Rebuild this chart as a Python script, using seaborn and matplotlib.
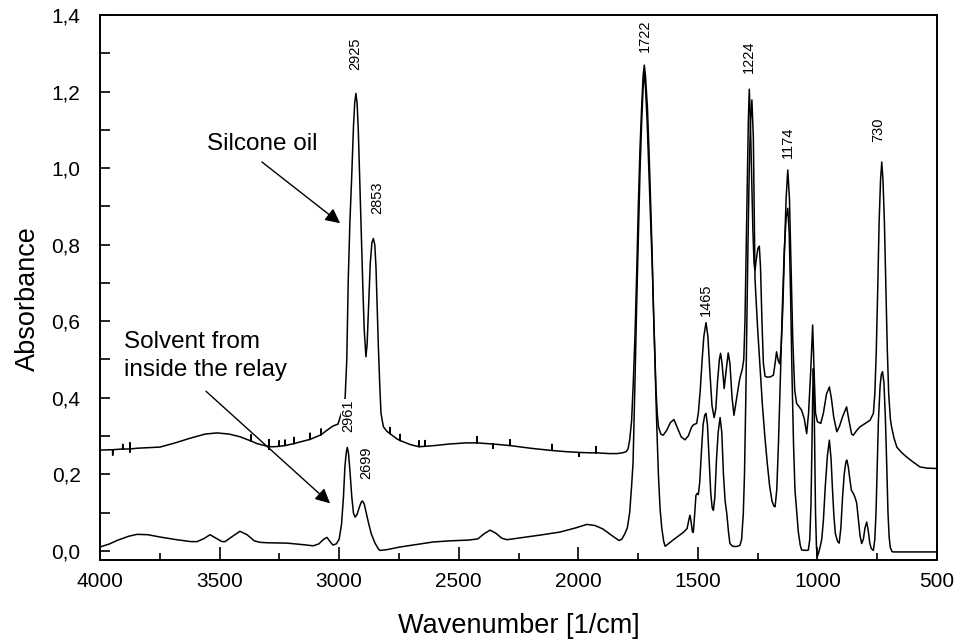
import matplotlib
matplotlib.use('Agg')
import matplotlib.pyplot as plt
from matplotlib.ticker import MultipleLocator, FuncFormatter
import seaborn as sns

# upper spectrum (silicone oil), wavenumber [1/cm] and absorbance
silicone_wn = [
    4000, 3960, 3947, 3947, 3947, 3929, 3905, 3905, 3905, 3875, 3875, 3875, 3875,
    3845, 3749, 3680, 3624, 3560, 3511, 3460, 3415, 3369, 3369, 3369, 3343, 3305,
    3293, 3293, 3293, 3293, 3270, 3251, 3251, 3251, 3226, 3226, 3226, 3189, 3189,
    3189, 3160, 3122, 3122, 3122, 3080, 3076, 3076, 3076, 3051, 3026, 3005, 2990,
    2975, 2968, 2962, 2955, 2948, 2944, 2940, 2935, 2930, 2925, 2920, 2913, 2906,
    2900, 2895, 2888, 2883, 2878, 2870, 2863, 2857, 2851, 2846, 2841, 2836, 2830,
    2825, 2815, 2800, 2787, 2787, 2787, 2760, 2745, 2745, 2745, 2700, 2666, 2666,
    2666, 2641, 2641, 2641, 2600, 2540, 2470, 2424, 2424, 2424, 2357, 2357, 2357,
    2286, 2286, 2286, 2200, 2110, 2110, 2110, 2050, 1997, 1997, 1997, 1950, 1926,
    1926, 1926, 1870, 1838, 1815, 1800, 1792, 1785, 1777, 1770, 1763, 1756, 1749,
    1742, 1735, 1729, 1724, 1719, 1711, 1704, 1697, 1691, 1686, 1680, 1675, 1670,
    1665, 1655, 1645, 1630, 1615, 1600, 1588, 1570, 1554, 1540, 1527, 1519, 1505,
    1498, 1490, 1482, 1475, 1466, 1458, 1450, 1441, 1432, 1425, 1418, 1410, 1405,
    1399, 1390, 1382, 1373, 1366, 1357, 1349, 1340, 1330, 1324, 1314, 1308, 1303,
    1298, 1293, 1289, 1285, 1281, 1276, 1270, 1265, 1261, 1256, 1249, 1243, 1238,
    1232, 1226, 1219, 1212, 1198, 1184, 1177, 1171, 1164, 1158, 1152, 1145, 1138,
    1131, 1124, 1117, 1110, 1103, 1095, 1087, 1076, 1066, 1055, 1045, 1037, 1028,
    1020, 1014, 1008, 1000, 986, 975, 962, 950, 942, 932, 919, 908, 895, 878,
    868, 857, 850, 835, 822, 800, 780, 766, 760, 754, 748, 742, 736, 731, 726,
    720, 714, 708, 702, 695, 690, 680, 668, 650, 627, 600, 571, 540, 500,
]
silicone_abs = [
    0.263, 0.264, 0.264, 0.250, 0.264, 0.265, 0.266, 0.278, 0.266, 0.266, 0.282, 0.258, 0.266,
    0.268, 0.271, 0.283, 0.294, 0.305, 0.308, 0.305, 0.298, 0.287, 0.303, 0.287, 0.280, 0.274,
    0.272, 0.290, 0.265, 0.272, 0.272, 0.273, 0.287, 0.273, 0.275, 0.289, 0.275, 0.280, 0.296,
    0.280, 0.285, 0.291, 0.307, 0.291, 0.302, 0.303, 0.318, 0.303, 0.315, 0.326, 0.331, 0.360,
    0.400, 0.500, 0.707, 0.860, 0.969, 1.040, 1.110, 1.170, 1.195, 1.170, 1.100, 0.950, 0.794,
    0.670, 0.576, 0.507, 0.540, 0.620, 0.750, 0.805, 0.816, 0.800, 0.742, 0.640, 0.533, 0.430,
    0.359, 0.324, 0.312, 0.306, 0.322, 0.306, 0.293, 0.288, 0.304, 0.288, 0.277, 0.272, 0.287,
    0.272, 0.273, 0.288, 0.273, 0.275, 0.279, 0.282, 0.282, 0.298, 0.282, 0.279, 0.268, 0.279,
    0.275, 0.290, 0.275, 0.268, 0.262, 0.278, 0.262, 0.259, 0.257, 0.247, 0.257, 0.256, 0.256,
    0.272, 0.256, 0.254, 0.254, 0.256, 0.259, 0.266, 0.290, 0.340, 0.440, 0.560, 0.720, 0.900,
    1.050, 1.160, 1.240, 1.269, 1.240, 1.160, 1.040, 0.900, 0.770, 0.640, 0.520, 0.420, 0.360,
    0.325, 0.305, 0.302, 0.315, 0.335, 0.343, 0.325, 0.298, 0.290, 0.300, 0.322, 0.329, 0.333,
    0.360, 0.420, 0.500, 0.560, 0.596, 0.560, 0.470, 0.380, 0.348, 0.370, 0.440, 0.500, 0.516,
    0.490, 0.424, 0.470, 0.517, 0.490, 0.400, 0.354, 0.390, 0.430, 0.452, 0.475, 0.500, 0.600,
    0.780, 0.970, 1.120, 1.206, 1.140, 1.000, 0.840, 0.750, 0.733, 0.760, 0.790, 0.796, 0.740,
    0.600, 0.490, 0.456, 0.454, 0.454, 0.459, 0.490, 0.520, 0.497, 0.489, 0.530, 0.630, 0.780,
    0.920, 0.995, 0.920, 0.740, 0.550, 0.420, 0.385, 0.376, 0.367, 0.345, 0.306, 0.360, 0.470,
    0.590, 0.470, 0.360, 0.337, 0.333, 0.360, 0.410, 0.428, 0.400, 0.350, 0.311, 0.325, 0.350, 0.376,
    0.340, 0.305, 0.302, 0.315, 0.324, 0.333, 0.341, 0.359, 0.410, 0.520, 0.680, 0.860, 0.970, 1.016, 0.970,
    0.860, 0.700, 0.530, 0.410, 0.345, 0.324, 0.295, 0.271, 0.258, 0.245, 0.232, 0.219, 0.216, 0.215,
]

# lower spectrum (solvent from inside the relay)
solvent_wn = [
    4000, 3960, 3929, 3880, 3845, 3800, 3749, 3680, 3620, 3594, 3565, 3540, 3515,
    3490, 3477, 3450, 3415, 3385, 3355, 3330, 3300, 3218, 3150, 3109, 3085, 3065,
    3051, 3038, 3026, 3012, 3000, 2990, 2982, 2976, 2970, 2966, 2961, 2955, 2947,
    2940, 2933, 2925, 2915, 2907, 2902, 2895, 2888, 2878, 2866, 2850, 2836, 2829,
    2800, 2745, 2660, 2607, 2536, 2460, 2420, 2395, 2369, 2345, 2320, 2298, 2230,
    2160, 2076, 2010, 1964, 1930, 1897, 1860, 1830, 1818, 1805, 1795, 1785, 1777,
    1771, 1763, 1756, 1749, 1742, 1735, 1729, 1724, 1719, 1712, 1704, 1697, 1690,
    1679, 1672, 1665, 1658, 1651, 1643, 1637, 1630, 1600, 1561, 1545, 1538, 1533,
    1528, 1523, 1519, 1514, 1508, 1503, 1498, 1492, 1485, 1478, 1471, 1466, 1460,
    1453, 1446, 1440, 1435, 1429, 1422, 1415, 1407, 1400, 1393, 1386, 1379, 1372,
    1366, 1355, 1340, 1324, 1317, 1310, 1305, 1300, 1295, 1290, 1285, 1280, 1274,
    1268, 1261, 1250, 1240, 1230, 1220, 1210, 1200, 1190, 1182, 1177, 1170, 1163,
    1155, 1147, 1139, 1131, 1124, 1118, 1112, 1106, 1100, 1094, 1087, 1080, 1072,
    1066, 1045, 1038, 1032, 1027, 1023, 1020, 1017, 1014, 1011, 1008, 1004, 1001,
    995, 988, 982, 975, 967, 958, 950, 943, 937, 931, 925, 916, 909, 902, 895,
    888, 881, 877, 871, 865, 858, 850, 843, 836, 830, 822, 815, 808, 801, 794,
    788, 781, 775, 766, 760, 755, 750, 745, 738, 733, 728, 722, 716, 710, 705,
    700, 695, 688, 683, 500,
]
solvent_abs = [
    0.010, 0.018, 0.027, 0.038, 0.043, 0.042, 0.036, 0.029, 0.024, 0.024, 0.032, 0.042, 0.033,
    0.024, 0.024, 0.036, 0.051, 0.042, 0.026, 0.022, 0.021, 0.020, 0.016, 0.013, 0.018, 0.030,
    0.035, 0.024, 0.015, 0.018, 0.030, 0.070, 0.140, 0.219, 0.258, 0.270, 0.255, 0.210, 0.140,
    0.098, 0.088, 0.095, 0.115, 0.128, 0.130, 0.122, 0.103, 0.075, 0.045, 0.020, 0.005, 0.001,
    0.003, 0.010, 0.018, 0.023, 0.026, 0.028, 0.031, 0.044, 0.054, 0.046, 0.033, 0.029, 0.035,
    0.041, 0.049, 0.060, 0.069, 0.066, 0.057, 0.040, 0.027, 0.030, 0.045, 0.060, 0.100, 0.170,
    0.230, 0.440, 0.640, 0.810, 0.990, 1.120, 1.210, 1.252, 1.210, 1.120, 0.980, 0.860, 0.730,
    0.480, 0.330, 0.200, 0.110, 0.060, 0.025, 0.012, 0.015, 0.030, 0.048, 0.058, 0.080, 0.093,
    0.075, 0.050, 0.048, 0.090, 0.145, 0.150, 0.147, 0.180, 0.260, 0.330, 0.355, 0.359, 0.330,
    0.240, 0.150, 0.112, 0.106, 0.140, 0.240, 0.310, 0.348, 0.310, 0.200, 0.130, 0.097, 0.050,
    0.019, 0.012, 0.011, 0.014, 0.030, 0.097, 0.200, 0.380, 0.600, 0.820, 1.000, 1.120, 1.178,
    1.080, 0.710, 0.580, 0.480, 0.380, 0.300, 0.230, 0.170, 0.130, 0.117, 0.115, 0.160, 0.280,
    0.450, 0.630, 0.780, 0.870, 0.895, 0.830, 0.660, 0.450, 0.280, 0.160, 0.106, 0.050, 0.015,
    0.002, 0.001, 0.002, 0.030, 0.120, 0.270, 0.400, 0.476, 0.400, 0.250, 0.100, 0.010, -0.016,
    -0.005, 0.012, 0.030, 0.080, 0.170, 0.250, 0.289, 0.240, 0.160, 0.090, 0.045, 0.025, 0.020, 0.060, 0.140,
    0.200, 0.232, 0.237, 0.220, 0.190, 0.158, 0.150, 0.140, 0.125, 0.090, 0.040, 0.019, 0.030, 0.060, 0.075,
    0.055, 0.020, 0.006, 0.001, 0.030, 0.100, 0.220, 0.340, 0.430, 0.460, 0.468, 0.440, 0.350, 0.220, 0.100,
    0.035, 0.008, -0.002, -0.003, -0.003,
]

# peak labels: text, wavenumber and absorbance of the label centre
peak_labels = ['2925', '2853', '2961', '2699', '1722', '1224', '1174', '730', '1465']
peak_label_wn = [2934, 2839, 2962, 2885, 1721, 1286, 1124, 746, 1466]
peak_label_abs = [1.298, 0.923, 0.352, 0.229, 1.345, 1.29, 1.067, 1.099, 0.655]

sns.set_style('ticks')
plt.rcParams['font.family'] = ['Liberation Sans', 'DejaVu Sans']
plt.rcParams['text.color'] = 'black'
plt.rcParams['axes.labelcolor'] = 'black'

fig = plt.figure(figsize=(9.57, 6.41), dpi=100)
ax = fig.add_axes([0.1045, 0.1264, 0.8746, 0.8502])

sns.lineplot(x=silicone_wn, y=silicone_abs, sort=False, estimator=None,
             color='black', lw=1.1, ax=ax)
sns.lineplot(x=solvent_wn, y=solvent_abs, sort=False, estimator=None,
             color='black', lw=1.1, ax=ax)

ax.set_xlim(4000, 500)
ax.set_ylim(-0.024, 1.4)
ax.xaxis.set_major_locator(MultipleLocator(500))
ax.xaxis.set_minor_locator(MultipleLocator(250))
ax.yaxis.set_major_locator(MultipleLocator(0.2))
ax.yaxis.set_minor_locator(MultipleLocator(0.1))
ax.yaxis.set_major_formatter(FuncFormatter(lambda v, p: f'{v:.1f}'.replace('.', ',')))

ax.tick_params(which='both', direction='in', top=False, right=False,
               width=1.2, color='black', labelsize=15, labelcolor='black')
ax.tick_params(axis='x', which='major', length=9.5, pad=9)
ax.tick_params(axis='x', which='minor', length=5)
ax.tick_params(axis='y', which='both', length=7.5, pad=14)
for side in ['top', 'bottom', 'left', 'right']:
    ax.spines[side].set_linewidth(1.4)
    ax.spines[side].set_color('black')

ax.set_xlabel('Wavenumber [1/cm]', fontsize=19.5)
ax.set_ylabel('Absorbance', fontsize=19.5)
ax.xaxis.label.set_va('center')
ax.yaxis.label.set_va('center')
ax.xaxis.set_label_coords(0.5, -0.122)
ax.yaxis.set_label_coords(-0.086, 0.48)

for txt, x, y in zip(peak_labels, peak_label_wn, peak_label_abs):
    ax.text(x, y, txt, rotation=90, ha='center', va='center', fontsize=10.5,
            bbox=dict(facecolor='white', edgecolor='none', pad=0.5))

# labels with arrows
ax.text(3323, 1.063, 'Silcone oil', ha='center', va='center', fontsize=17.5)
ax.annotate('', xy=(2996, 0.856), xytext=(3323, 1.016),
            arrowprops=dict(arrowstyle='-|>', color='black', lw=1.0,
                            mutation_scale=22, shrinkA=0, shrinkB=0))
ax.text(3900, 0.508, 'Solvent from\ninside the relay', ha='left', va='center',
        fontsize=17.5, linespacing=1.35)
ax.annotate('', xy=(3038, 0.124), xytext=(3557, 0.417),
            arrowprops=dict(arrowstyle='-|>', color='black', lw=1.0,
                            mutation_scale=22, shrinkA=0, shrinkB=0))

fig.savefig('out.png', dpi=100)
